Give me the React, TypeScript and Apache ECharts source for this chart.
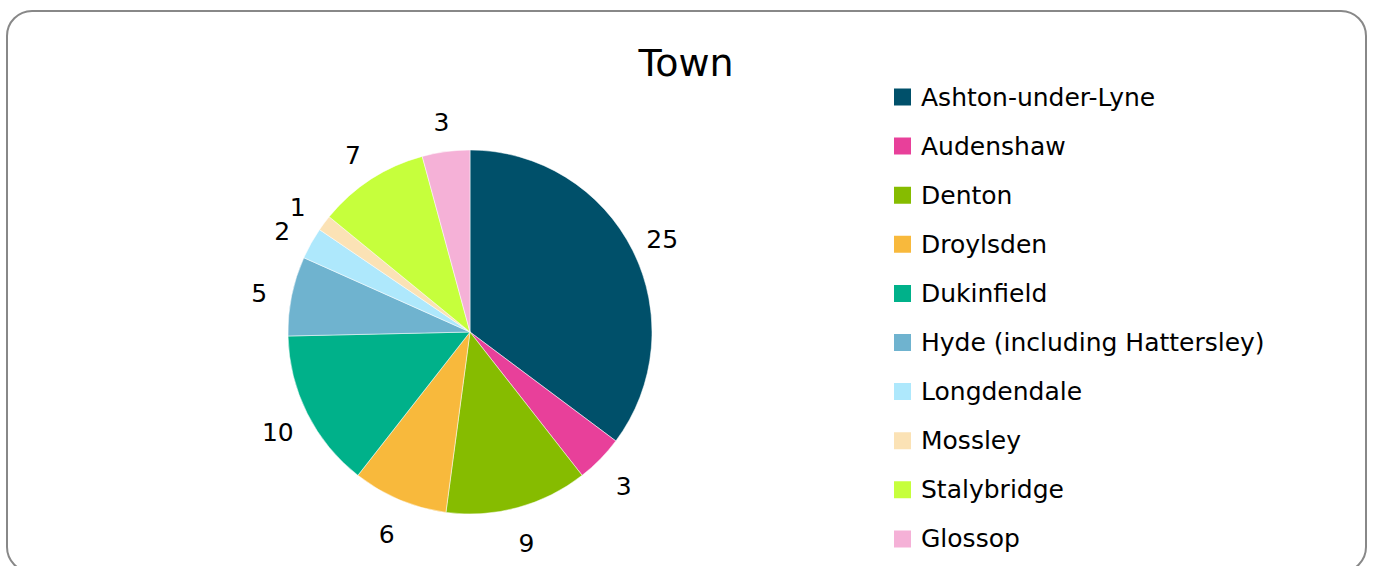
import React, { useEffect, useRef } from "react";
import * as echarts from "echarts";

const categories = [
  "Ashton-under-Lyne",
  "Audenshaw",
  "Denton",
  "Droylsden",
  "Dukinfield",
  "Hyde (including Hattersley)",
  "Longdendale",
  "Mossley",
  "Stalybridge",
  "Glossop",
];
const values = [25, 3, 9, 6, 10, 5, 2, 1, 7, 3];
const colors = [
  "#00506a",
  "#e8409a",
  "#86bc00",
  "#f8b93c",
  "#00b18a",
  "#6fb3cf",
  "#aee8fc",
  "#fbe2b5",
  "#c6ff3c",
  "#f5b1d7",
];
const titleText = "Town";

const FONT = "'DejaVu Sans', sans-serif";

export default function App() {
  const ref = useRef<HTMLDivElement>(null);
  useEffect(() => {
    if (!ref.current) return;
    const chart = echarts.init(ref.current, null, { renderer: "svg" });
    const data = categories.map((name, i) => ({
      name,
      value: values[i],
      itemStyle: { color: colors[i] },
    }));
    chart.setOption({
      animation: false,
      backgroundColor: "#ffffff",
      title: {
        text: titleText,
        left: 681,
        top: 39,
        textAlign: "center",
        textStyle: { fontFamily: FONT, fontSize: 38, fontWeight: "normal", color: "#000" },
      },
      graphic: [
        {
          type: "rect",
          shape: { x: 7, y: 11, width: 1359, height: 561, r: 25 },
          style: { fill: "none", stroke: "#888888", lineWidth: 2 },
          silent: true,
          z: -1,
        },
      ],
      legend: {
        orient: "vertical",
        left: 887,
        top: 79.5,
        itemWidth: 19,
        itemHeight: 19,
        itemGap: 24.1,
        icon: "rect",
        data: categories,
        textStyle: { fontFamily: FONT, fontSize: 25, color: "#000", padding: [0, 0, 0, 4] },
        selectedMode: false,
      },
      series: [
        {
          type: "pie",
          center: [470, 332],
          radius: [0, 182],
          startAngle: 90,
          clockwise: true,
          avoidLabelOverlap: false,
          data,
          label: {
            show: true,
            position: "outside",
            formatter: "{c}",
            fontFamily: FONT,
            fontSize: 25,
            color: "#000",
            distanceToLabelLine: 0,
          },
          labelLine: { show: false, length: 33, length2: 0 },
          labelLayout: (p: any) => {
            const r = p.labelRect;
            const ax = p.align === "right" ? r.x + r.width : p.align === "center" ? r.x + r.width / 2 : r.x;
            const ay = r.y + r.height / 2;
            return { x: ax, y: ay + 4, align: "center", verticalAlign: "middle" };
          },
          itemStyle: { borderColor: "#ffffff", borderWidth: 0.5 },
          emphasis: { disabled: true },
        },
      ],
    });
    return () => chart.dispose();
  }, []);
  return (
    <div
      ref={ref}
      style={{ position: "fixed", left: 0, top: 0, width: 1376, height: 566 }}
    />
  );
}
